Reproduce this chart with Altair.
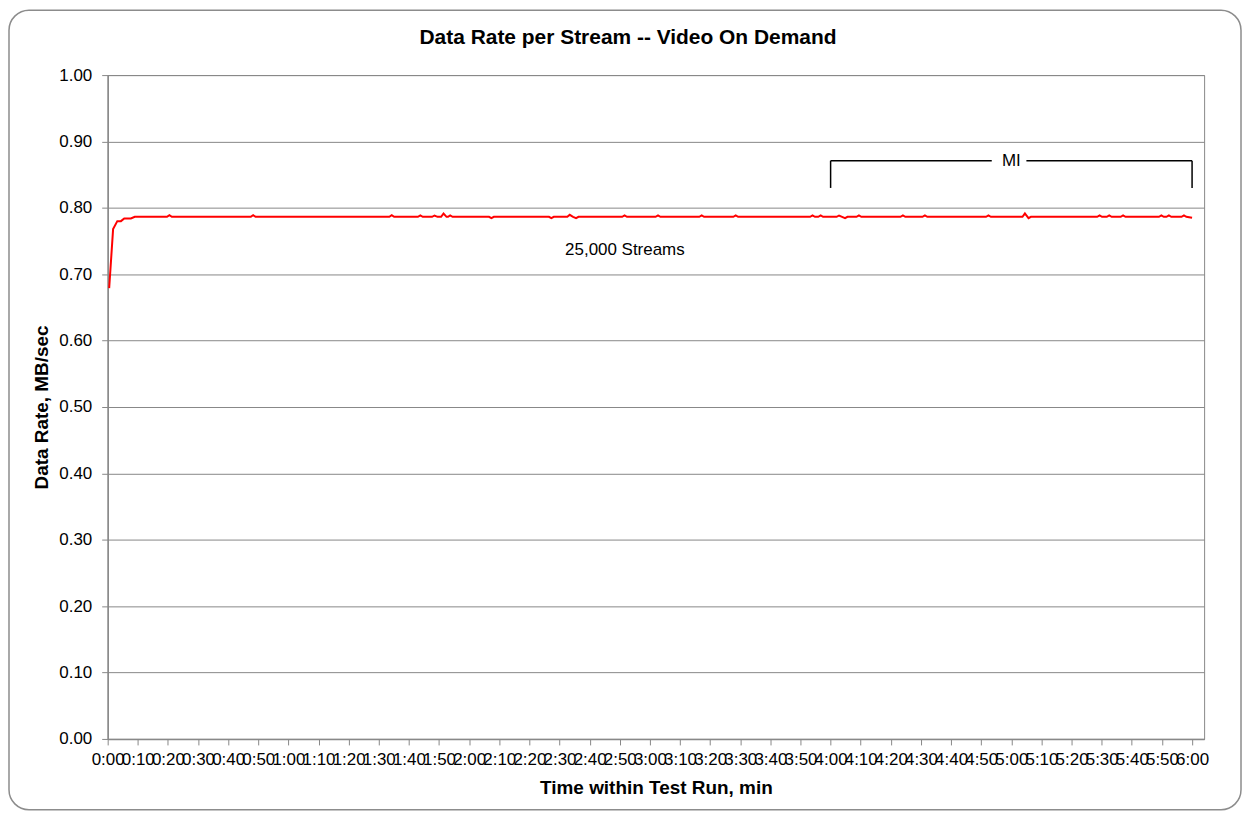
import altair as alt
import pandas as pd

# ---- data (time in seconds, data rate in MB/sec) ----
seconds = [0.5, 1.8, 3.2, 4.4, 5.5, 7.7, 9.0,
           19.7, 20.5, 21.3,
           47.5, 48.3, 49.1,
           93.5, 94.3, 95.1,
           103.0, 103.8, 104.6,
           107.7, 108.5, 109.5, 110.7, 111.5, 112.5, 113.0, 113.7, 114.5,
           126.6, 127.4, 128.2,
           146.5, 147.3, 148.1,
           152.6, 153.4, 154.5, 155.5, 156.3,
           170.8, 171.6, 172.4,
           181.9, 182.7, 183.5,
           196.4, 197.2, 198.0,
           207.7, 208.5, 209.3,
           233.2, 234.0, 234.8, 235.9, 236.7, 237.5,
           242.0, 242.8, 243.8, 244.8, 245.6,
           248.6, 249.4, 250.2,
           263.2, 264.0, 264.8,
           270.5, 271.3, 272.1,
           291.6, 292.4, 293.2,
           303.7, 304.5, 305.7, 306.5,
           328.5, 329.3, 330.1, 331.7, 332.5, 333.3,
           336.3, 337.1, 337.9,
           349.0, 349.8, 350.6, 351.5, 352.3, 353.1,
           356.5, 357.3, 358.1, 360.0]

rate = [0.679, 0.768, 0.780, 0.780, 0.784, 0.784, 0.7865,
        0.7865, 0.789, 0.7865,
        0.7865, 0.789, 0.7865,
        0.7865, 0.789, 0.7865,
        0.7865, 0.7885, 0.7865,
        0.7865, 0.7885, 0.7865, 0.7865, 0.7915, 0.7865, 0.7865, 0.7885, 0.7865,
        0.7865, 0.7845, 0.7865,
        0.7865, 0.7845, 0.7865,
        0.7865, 0.7895, 0.7865, 0.7845, 0.7865,
        0.7865, 0.7885, 0.7865,
        0.7865, 0.7885, 0.7865,
        0.7865, 0.7885, 0.7865,
        0.7865, 0.7885, 0.7865,
        0.7865, 0.7885, 0.7865, 0.7865, 0.7885, 0.7865,
        0.7865, 0.7885, 0.7865, 0.7845, 0.7865,
        0.7865, 0.7885, 0.7865,
        0.7865, 0.7885, 0.7865,
        0.7865, 0.7885, 0.7865,
        0.7865, 0.7885, 0.7865,
        0.7865, 0.7915, 0.7845, 0.7865,
        0.7865, 0.7885, 0.7865, 0.7865, 0.7885, 0.7865,
        0.7865, 0.7885, 0.7865,
        0.7865, 0.7885, 0.7865, 0.7865, 0.7885, 0.7865,
        0.7865, 0.7885, 0.7865, 0.785]

assert len(seconds) == len(rate)

tick_seconds = list(range(0, 361, 10))
y_ticks = [round(i * 0.1, 1) for i in range(11)]

# annotation: "MI" bracket from 4:00 to 6:00
bracket_x = [240, 305, 240, 360]
bracket_x2 = [293.5, 360, 240, 360]
bracket_y = [0.871, 0.871, 0.871, 0.871]
bracket_y2 = [0.871, 0.871, 0.83, 0.83]
mi_text = ["MI"]
mi_x = [300]
mi_y = [0.871]

streams_text = ["25,000 Streams"]
streams_x = [171.7]
streams_y = [0.736]

title_text = ["Data Rate per Stream -- Video On Demand"]

FONT = "Liberation Sans"
GRAY = "#888888"
W, H = 1100, 666

x_scale = alt.Scale(domain=[0, 364], nice=False, zero=False)
y_scale = alt.Scale(domain=[0, 1], nice=False)

x_axis = alt.Axis(values=tick_seconds,
                  labelExpr="floor(datum.value/60) + ':' + (datum.value % 60 < 10 ? '0' : '') + (datum.value % 60)",
                  labelOverlap=False, labelFlush=False, grid=False,
                  tickSize=6, labelPadding=7, labelFontSize=17,
                  title="Time within Test Run, min", titleFontSize=19,
                  titleFontWeight="bold", titlePadding=11)
y_axis = alt.Axis(values=y_ticks, format=".2f", grid=True,
                  gridColor=GRAY, gridWidth=1, tickSize=6,
                  labelPadding=10, labelFontSize=17,
                  title="Data Rate, MB/sec", titleFontSize=19,
                  titleFontWeight="bold", titlePadding=7)

line_df = pd.DataFrame({"t": seconds, "rate": rate})

line = alt.Chart(line_df).mark_line(color="#FF0000", strokeWidth=2).encode(
    x=alt.X("t:Q", scale=x_scale, axis=x_axis),
    y=alt.Y("rate:Q", scale=y_scale, axis=y_axis),
)

bracket_df = pd.DataFrame({"x": bracket_x, "x2": bracket_x2,
                           "y": bracket_y, "y2": bracket_y2})
bracket = alt.Chart(bracket_df).mark_rule(color="black", strokeWidth=1.5).encode(
    x=alt.X("x:Q", scale=x_scale, axis=x_axis),
    x2="x2:Q",
    y=alt.Y("y:Q", scale=y_scale, axis=y_axis),
    y2="y2:Q",
)

mi = alt.Chart(pd.DataFrame({"x": mi_x, "y": mi_y, "label": mi_text})).mark_text(
    font=FONT, fontSize=17, color="black", baseline="middle", align="center"
).encode(
    x=alt.X("x:Q", scale=x_scale, axis=x_axis),
    y=alt.Y("y:Q", scale=y_scale, axis=y_axis),
    text="label:N",
)

streams = alt.Chart(pd.DataFrame({"x": streams_x, "y": streams_y, "label": streams_text})).mark_text(
    font=FONT, fontSize=17, color="black", baseline="middle", align="center"
).encode(
    x=alt.X("x:Q", scale=x_scale, axis=x_axis),
    y=alt.Y("y:Q", scale=y_scale, axis=y_axis),
    text="label:N",
)

title = alt.Chart(pd.DataFrame({"label": title_text})).mark_text(
    font=FONT, fontSize=21, fontWeight="bold", color="black",
    baseline="middle", align="center"
).encode(
    x=alt.value(522), y=alt.value(-37), text="label:N"
)

border = alt.Chart(pd.DataFrame({"a": [0]})).mark_rect(
    fillOpacity=0, stroke="#8c8c8c", strokeWidth=1.5, cornerRadius=20
).encode(
    x=alt.value(-99), x2=alt.value(1137), y=alt.value(-65), y2=alt.value(737)
)

chart = alt.layer(line, bracket, mi, streams, title, border).properties(
    width=W, height=H,
    autosize=alt.AutoSizeParams(type="none"),
    padding={"left": 100, "top": 66, "right": 38, "bottom": 72},
    background="white",
).configure_axis(
    labelFont=FONT, titleFont=FONT, labelColor="black", titleColor="black",
    domainColor=GRAY, domainWidth=1.5, tickColor=GRAY, tickWidth=1,
).configure_view(
    stroke=GRAY, strokeWidth=1
)

chart.save("out.html", embed_options={"renderer": "svg", "actions": False})
